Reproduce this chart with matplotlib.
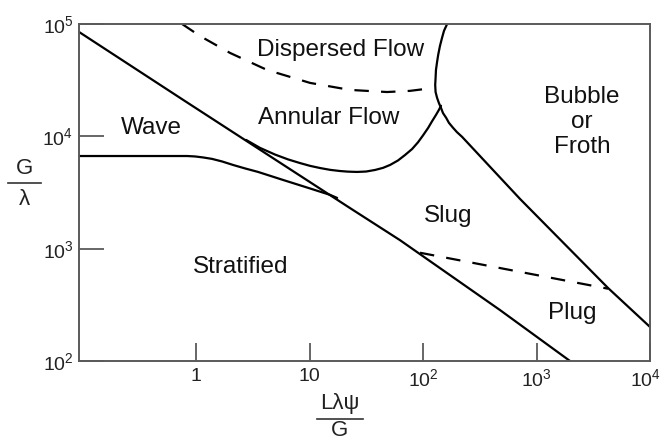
import matplotlib
matplotlib.use("Agg")
import matplotlib.pyplot as plt
import matplotlib.transforms as mtransforms
from matplotlib.lines import Line2D

plt.rcParams['font.family'] = ['Liberation Sans', 'DejaVu Sans']
plt.rcParams['mathtext.default'] = 'regular'

# Baker flow-pattern map: boundary curves (x = L*lambda*psi/G, y = G/lambda)
strat_x = [0.093, 0.77, 22.7, 62.7, 477, 1973]
strat_y = [85000, 21100, 2300, 1190, 284, 100]

wave_x = [0.093, 0.834, 0.98, 1.15, 1.38, 1.69, 2.12, 2.70, 3.52, 5.84, 9.7, 15.2, 17.5]
wave_y = [6680, 6680, 6620, 6490, 6300, 5980, 5560, 5180, 4820, 4090, 3480, 3010, 2830]

annular_x = [2.76, 3.66, 4.97, 6.47, 8.25, 10.1, 12.4, 15.2, 18.6, 21.8, 26.2, 31.5,
             37.8, 44.4, 51.2, 60.2, 69.4, 80, 90.3, 100, 111, 120, 130, 138, 144]
annular_y = [9290, 7890, 6880, 6230, 5780, 5460, 5220, 5030, 4910, 4850, 4820, 4860,
             5020, 5240, 5560, 6100, 6820, 7700, 8850, 10200, 11900, 13600, 15500,
             17200, 18700]

bubble_x = [163, 153, 147, 141, 136, 133, 130, 129, 128, 129, 133, 138, 144, 150,
            160, 169, 184, 199, 221, 716, 4265, 10000]
bubble_y = [100000, 86900, 75200, 63800, 53100, 46000, 39000, 33100, 28700, 24800,
            22000, 19800, 17900, 16100, 14600, 13200, 11900, 10900, 9890, 2770, 447, 201]

dispersed_x = [0.753, 1.08, 1.99, 4.22, 10.1, 22.7, 48.2, 76.8, 125]
dispersed_y = [100000, 78300, 55300, 39000, 29900, 25900, 24800, 25400, 27000]

plug_x = [94, 4270]
plug_y = [920, 440]

# Region names and where they sit
regions = ["Dispersed Flow", "Annular Flow", "Wave", "Bubble\nor\nFroth",
           "Stratified", "Slug", "Plug"]
region_x = [18.6, 14.6, 0.40, 2520, 2.49, 166, 2055]
region_y = [58700, 14600, 11900, 13400, 687, 1950, 267]

x_ticks = [1, 10, 100, 1000, 10000]
x_labels = ["1", "10", "$10^2$", "$10^3$", "$10^4$"]
y_ticks = [100, 1000, 10000, 100000]
y_labels = ["$10^2$", "$10^3$", "$10^4$", "$10^5$"]

W, H = 663, 443
fig = plt.figure(figsize=(W / 100, H / 100), dpi=100)
ax = fig.add_axes([79 / W, 1 - 361 / H, (650 - 79) / W, (361 - 24) / H])
ax.set_xscale('log')
ax.set_yscale('log')
ax.set_xlim(0.093, 1e4)
ax.set_ylim(1e2, 1e5)

line_kw = dict(color='black', lw=1.6, solid_capstyle='round', solid_joinstyle='round')
ax.plot(strat_x, strat_y, **line_kw)
ax.plot(wave_x, wave_y, **line_kw)
ax.plot(annular_x, annular_y, **line_kw)
ax.plot(bubble_x, bubble_y, **line_kw)
dash_kw = dict(color='black', lw=1.6, linestyle=(0, (6.5, 5.5)))
ax.plot(dispersed_x, dispersed_y, **dash_kw)
ax.plot(plug_x, plug_y, **dash_kw)

for name, tx, ty in zip(regions, region_x, region_y):
    ax.text(tx, ty, name, ha='center', va='center', fontsize=17.5,
            linespacing=1.2, color='#111111')

ax.xaxis.set_major_locator(matplotlib.ticker.FixedLocator(x_ticks))
ax.xaxis.set_minor_locator(matplotlib.ticker.NullLocator())
ax.set_xticklabels(x_labels)
ax.yaxis.set_major_locator(matplotlib.ticker.FixedLocator(y_ticks))
ax.yaxis.set_minor_locator(matplotlib.ticker.NullLocator())
ax.set_yticklabels(y_labels)

spine_col = '#5a5a5a'
for s in ax.spines.values():
    s.set_color(spine_col)
    s.set_linewidth(1.4)
ax.tick_params(axis='x', direction='in', length=13, width=1.3, color=spine_col,
               labelsize=14, pad=5, labelcolor='#222222')
ax.tick_params(axis='y', direction='in', length=18, width=1.3, color=spine_col,
               labelsize=14, pad=4, labelcolor='#222222')

# nudge the last x tick label inward so it stays within the figure
last = ax.get_xticklabels()[-1]
last.set_transform(last.get_transform() +
                   mtransforms.ScaledTranslation(-5 / 100, 0, fig.dpi_scale_trans))

# Fraction-style axis titles
def frac(cx, top_y, bar_y, bot_y, num, den, half):
    fig.text(cx / W, 1 - top_y / H, num, ha='center', va='center',
             fontsize=16, color='#222222')
    fig.text(cx / W, 1 - bot_y / H, den, ha='center', va='center',
             fontsize=16, color='#222222')
    fig.add_artist(Line2D([(cx - half) / W, (cx + half) / W],
                          [1 - bar_y / H, 1 - bar_y / H],
                          transform=fig.transFigure, color='#333333', lw=1.2))

frac(24, 168, 183, 200, "G", "λ", 16.5)
frac(340, 404, 419, 430, "Lλψ", "G", 23)

fig.savefig("out.png", dpi=100, facecolor='white')
